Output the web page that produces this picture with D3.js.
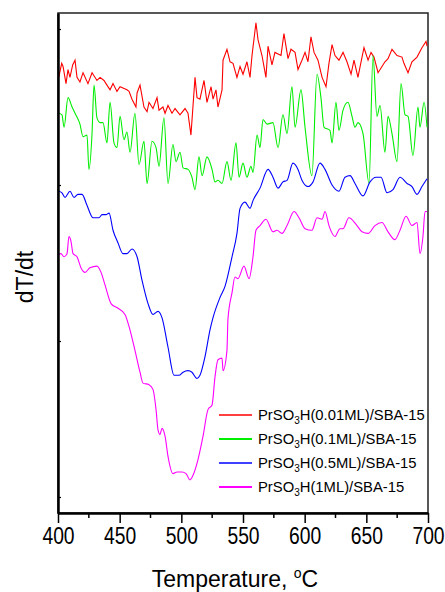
<!DOCTYPE html>
<html>
<head>
<meta charset="utf-8">
<script src="https://cdn.jsdelivr.net/npm/d3@7"></script>
<style>
  body { margin: 0; background: #fff; }
  svg { display: block; font-family: Arial, "Liberation Sans", sans-serif; }
</style>
</head>
<body>
<div id="chart"></div>
<script>
// DTG-type curves, temperature (°C) vs dT/dt (arbitrary units)
const seriesNames = ["0.01ML", "0.1ML", "0.5ML", "1ML"];
const seriesColors = ["#ff0000", "#00ee00", "#0000ff", "#ff00ff"];

const red = [
  [400.6,2.69],[403.0,2.78],[404.1,2.76],[406.5,2.65],[408.1,2.74],[409.7,2.69],[411.9,2.77],[413.8,2.80],
  [415.4,2.69],[417.8,2.66],[420.3,2.72],[424.3,2.65],[427.6,2.72],[431.6,2.67],[434.1,2.69],[437.3,2.67],
  [439.7,2.64],[442.2,2.61],[444.6,2.65],[447.8,2.60],[450.3,2.63],[455.9,2.61],[457.6,2.60],[460.0,2.55],
  [463.2,2.50],[464.1,2.59],[466.5,2.64],[469.7,2.50],[472.2,2.47],[473.8,2.53],[477.0,2.49],[480.3,2.56],
  [481.9,2.48],[485.1,2.50],[486.8,2.46],[489.2,2.51],[492.4,2.46],[494.9,2.49],[498.9,2.45],[503.0,2.49],
  [505.4,2.46],[507.8,2.32],[511.1,2.69],[512.7,2.56],[515.1,2.55],[518.4,2.67],[520.8,2.53],[524.1,2.63],
  [525.7,2.55],[528.1,2.61],[529.7,2.50],[533.0,2.61],[533.8,2.80],[537.0,2.87],[539.5,2.79],[541.9,2.78],
  [545.1,2.69],[547.6,2.76],[550.0,2.71],[553.2,2.79],[555.7,2.69],[557.3,2.83],[560.5,3.04],[562.2,2.93],
  [565.4,2.83],[568.6,2.69],[570.3,2.89],[573.5,2.77],[575.9,2.85],[580.8,2.83],[583.2,2.97],[586.5,2.81],
  [588.9,2.87],[592.2,2.85],[594.6,2.74],[597.8,2.80],[600.3,2.85],[602.7,2.79],[605.1,2.95],[607.6,2.85],
  [610.8,2.80],[614.1,2.69],[617.3,2.63],[619.7,2.78],[622.2,2.90],[624.6,2.83],[627.8,2.80],[631.1,2.85],
  [634.3,2.79],[637.6,2.71],[640.0,2.80],[643.2,2.69],[646.5,2.82],[648.1,2.88],[651.4,2.80],[653.8,2.85],
  [656.2,2.82],[659.5,2.72],[662.7,2.76],[665.1,2.79],[667.6,2.81],[670.8,2.87],[674.9,2.83],[678.9,2.82],
  [680.5,2.78],[683.8,2.72],[687.0,2.79],[691.1,2.82],[695.1,2.88],[698.4,2.92],[699.2,2.89]
];

const green = [
  [400.6,2.46],[403.2,2.45],[404.9,2.37],[408.1,2.56],[411.4,2.50],[413.8,2.46],[417.8,2.39],[420.3,2.31],
  [423.5,2.32],[425.1,2.10],[427.6,2.33],[429.2,2.64],[431.6,2.43],[434.1,2.40],[436.5,2.40],[439.7,2.27],
  [442.2,2.53],[445.4,2.27],[447.8,2.24],[450.3,2.44],[453.5,2.29],[455.9,2.34],[458.4,2.21],[462.4,2.46],
  [465.7,2.13],[469.7,2.28],[472.2,2.01],[476.2,2.28],[479.5,2.24],[481.9,2.12],[485.9,2.43],[489.2,2.01],
  [493.2,2.26],[495.7,2.15],[498.9,2.21],[501.4,2.11],[505.4,2.10],[508.6,2.05],[511.1,1.97],[514.3,2.18],
  [516.8,2.06],[520.8,2.18],[524.9,2.10],[527.3,2.02],[529.7,2.03],[533.0,2.01],[537.0,2.15],[540.3,2.03],
  [544.3,2.27],[546.8,2.05],[550.0,2.14],[553.2,2.05],[556.5,2.12],[558.1,2.08],[561.4,2.32],[563.8,2.24],
  [566.2,2.42],[569.5,2.39],[574.3,2.40],[578.4,2.24],[582.4,2.45],[585.7,2.33],[589.7,2.63],[592.2,2.37],
  [597.0,2.61],[600.3,2.37],[605.9,2.06],[610.0,2.71],[613.2,2.56],[615.7,2.37],[620.5,2.35],[622.2,2.27],
  [625.4,2.53],[627.8,2.35],[631.1,2.48],[635.1,2.53],[638.4,2.44],[640.8,2.37],[643.2,2.40],[647.3,2.33],
  [652.2,2.01],[655.4,2.83],[658.6,2.44],[661.1,2.51],[665.1,2.21],[667.6,2.44],[670.8,2.33],[674.9,2.15],
  [678.1,2.65],[681.4,2.45],[683.8,2.44],[687.8,2.19],[691.9,2.50],[693.5,2.37],[696.8,2.53],[699.2,2.37]
];

const blue = [
  [400.6,1.96],[403.2,1.95],[405.7,1.92],[409.7,1.96],[413.0,1.92],[416.2,1.94],[419.5,1.94],[423.5,1.87],
  [428.4,1.79],[433.2,1.79],[435.7,1.81],[438.9,1.81],[441.4,1.82],[444.6,1.71],[448.6,1.63],[452.7,1.56],
  [455.9,1.56],[460.0,1.59],[464.1,1.54],[468.1,1.39],[473.0,1.24],[477.0,1.17],[481.1,1.19],[484.3,1.15],
  [489.2,0.96],[494.1,0.78],[498.1,0.78],[501.4,0.80],[505.4,0.81],[508.6,0.80],[512.7,0.76],[515.1,0.78],
  [519.2,0.90],[523.2,1.07],[525.7,1.15],[531.4,1.28],[535.4,1.35],[541.1,1.54],[545.1,1.69],[547.6,1.85],
  [551.6,1.89],[555.7,1.85],[558.1,1.90],[563.8,1.98],[570.3,2.10],[574.3,2.05],[578.4,1.98],[582.4,2.02],
  [585.7,2.03],[590.5,2.14],[594.6,2.10],[597.8,2.03],[602.7,1.99],[606.8,2.02],[612.4,2.14],[616.5,2.10],
  [622.2,2.00],[627.8,1.96],[632.7,2.05],[636.8,2.06],[640.8,2.01],[647.3,1.93],[653.0,2.02],[657.8,2.05],
  [661.9,2.05],[666.8,1.95],[671.6,1.97],[677.3,2.05],[683.0,2.01],[687.0,1.99],[691.1,1.94],[695.1,1.99],
  [699.2,2.04]
];

const magenta = [
  [400.2,1.55],[402.4,1.56],[404.9,1.54],[407.3,1.56],[408.9,1.67],[410.5,1.64],[412.2,1.56],[415.4,1.54],
  [418.6,1.47],[421.9,1.44],[425.9,1.47],[431.6,1.48],[434.9,1.44],[438.1,1.36],[443.0,1.24],[448.6,1.21],
  [454.3,1.17],[458.4,1.07],[462.4,0.94],[466.5,0.80],[468.9,0.73],[473.8,0.72],[477.0,0.69],[479.5,0.56],
  [481.1,0.43],[482.7,0.40],[484.3,0.44],[486.8,0.39],[489.2,0.26],[493.2,0.15],[496.5,0.16],[500.5,0.16],
  [503.8,0.15],[507.0,0.11],[509.5,0.14],[513.5,0.24],[517.6,0.39],[521.6,0.56],[524.9,0.59],[527.3,0.77],
  [529.7,0.88],[533.0,0.89],[533.8,0.81],[537.0,0.94],[537.8,1.14],[541.1,1.31],[543.5,1.41],[545.9,1.40],
  [550.8,1.48],[554.9,1.40],[558.1,1.54],[560.5,1.71],[563.8,1.74],[568.6,1.78],[574.3,1.70],[577.6,1.71],
  [581.6,1.69],[585.7,1.74],[591.4,1.83],[595.4,1.79],[600.3,1.72],[605.9,1.71],[610.0,1.79],[614.1,1.78],
  [616.5,1.83],[619.7,1.74],[624.6,1.67],[628.6,1.72],[631.1,1.72],[635.9,1.79],[642.4,1.74],[646.5,1.70],
  [651.4,1.69],[657.0,1.74],[662.7,1.76],[667.6,1.70],[673.2,1.65],[677.3,1.71],[682.2,1.80],[687.0,1.74],
  [691.1,1.76],[693.5,1.56],[695.9,1.67],[697.6,1.83],[699.2,1.83]
];

const xTicks = [400, 450, 500, 550, 600, 650, 700];
const xMinorTicks = [425, 475, 525, 575, 625, 675];
const yTicks = [0, 1, 2, 3];

const width = 445, height = 592;
const margin = { top: 13, right: 17, bottom: 79, left: 58 };

const svg = d3.select("#chart").append("svg")
  .attr("width", width)
  .attr("height", height);

const x = d3.scaleLinear().domain([400, 700]).range([margin.left, width - margin.right]);
const y = d3.scaleLinear().domain([-0.1026, 3.1026]).range([height - margin.bottom, margin.top]);

// red trace is jagged, the others smoother
const jagged = d3.line().x(d => x(d[0])).y(d => y(d[1]));
const smooth = d3.line().x(d => x(d[0])).y(d => y(d[1])).curve(d3.curveMonotoneX);

// frame (top/right)
svg.append("rect")
  .attr("x", x(400)).attr("y", y(3.1026))
  .attr("width", x(700) - x(400)).attr("height", y(-0.1026) - y(3.1026))
  .attr("fill", "none").attr("stroke", "#222").attr("stroke-width", 1.5);

const allSeries = [red, green, blue, magenta];
svg.append("g").selectAll("path")
  .data(allSeries)
  .join("path")
  .attr("d", (d, i) => i === 0 ? jagged(d) : smooth(d))
  .attr("fill", "none")
  .attr("stroke", (d, i) => seriesColors[i])
  .attr("stroke-width", 1.1);

// x axis
const xAxis = svg.append("g")
  .attr("transform", `translate(0,${y(-0.1026)})`)
  .call(d3.axisBottom(x).tickValues(xTicks).tickSize(10).tickPadding(5).tickSizeOuter(0));
xAxis.append("g").selectAll("line")
  .data(xMinorTicks)
  .join("line")
  .attr("x1", d => x(d)).attr("x2", d => x(d))
  .attr("y1", 0).attr("y2", 5)
  .attr("stroke", "#000").attr("stroke-width", 1.5);
xAxis.select(".domain").attr("stroke-width", 2.5);
xAxis.selectAll(".tick line").attr("stroke-width", 1.5);
xAxis.selectAll(".tick text")
  .attr("font-size", 23)
  .attr("font-family", "Arial, 'Liberation Sans', sans-serif")
  .attr("fill", "#000")
  .attr("transform", "scale(0.84,1)");

// y axis, no labels, inward ticks
const yAxis = svg.append("g")
  .attr("transform", `translate(${x(400)},0)`)
  .call(d3.axisRight(y).tickValues(yTicks).tickSize(3).tickFormat("").tickSizeOuter(0));
yAxis.select(".domain").attr("stroke-width", 2.5);
yAxis.selectAll(".tick line").attr("stroke-width", 1.2);

// axis titles
const title = svg.append("text")
  .attr("x", 235).attr("y", 587)
  .attr("text-anchor", "middle")
  .attr("font-size", 23)
  .attr("fill", "#000");
title.append("tspan").text("Temperature, ");
title.append("tspan").attr("font-size", 14).attr("dy", -9).text("o");
title.append("tspan").attr("dy", 9).text("C");

svg.append("text")
  .attr("transform", "translate(33,277) rotate(-90)")
  .attr("text-anchor", "middle")
  .attr("font-size", 23)
  .attr("fill", "#000")
  .text("dT/dt");

// legend
const legend = svg.append("g").attr("transform", "translate(219,415)");
const item = legend.selectAll("g")
  .data(seriesNames)
  .join("g")
  .attr("transform", (d, i) => `translate(0,${i * 24})`);
item.append("line")
  .attr("x1", 0).attr("x2", 33)
  .attr("stroke", (d, i) => seriesColors[i])
  .attr("stroke-width", (d, i) => i % 2 ? 2.2 : 1.3);
const label = item.append("text")
  .attr("x", 39).attr("y", 5)
  .attr("font-size", 14.8)
  .attr("fill", "#000");
label.append("tspan").text("PrSO");
label.append("tspan").attr("font-size", 10).attr("dy", 4).text("3");
label.append("tspan").attr("dy", -4).text(d => `H(${d})/SBA-15`);
</script>
</body>
</html>
